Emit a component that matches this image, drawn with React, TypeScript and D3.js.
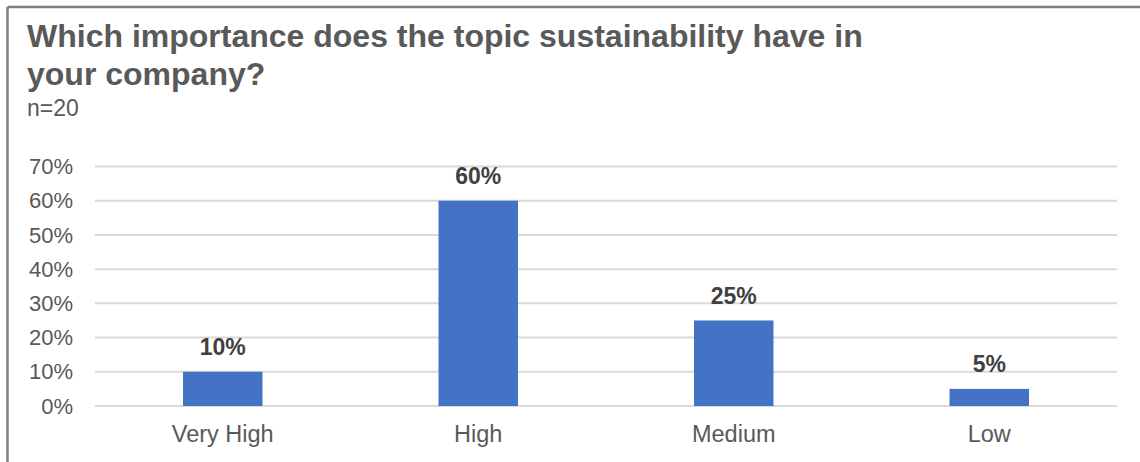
import React from "react";
import * as d3 from "d3";

const categories = ["Very High", "High", "Medium", "Low"];
const values = [10, 60, 25, 5];
const yTicks = [0, 10, 20, 30, 40, 50, 60, 70];
const titleLines = ["Which importance does the topic sustainability have in", "your company?"];
const subtitle = "n=20";

const W = 1140;
const H = 462;
const plotLeft = 95;
const plotRight = 1117;
const plotTop = 166.5;
const plotBottom = 406;

export default function App() {
  const x = d3
    .scaleBand<string>()
    .domain(categories)
    .range([plotLeft, plotRight])
    .paddingInner(0.689)
    .paddingOuter(0.3445);
  const y = d3.scaleLinear().domain([0, 70]).range([plotBottom, plotTop]);
  const font = "Arial, 'Liberation Sans', sans-serif";
  const gray = "#595959";

  return (
    <svg
      width={W}
      height={H}
      style={{ position: "absolute", left: 0, top: 0, display: "block", background: "#fff" }}
      fontFamily={font}
    >
      <rect x={0} y={0} width={W} height={H} fill="#fff" />
      {/* border */}
      <line x1={7.5} y1={7} x2={W} y2={7} stroke="#808080" strokeWidth={2.5} />
      <line x1={7.5} y1={7} x2={7.5} y2={H} stroke="#808080" strokeWidth={2.5} />

      {/* title */}
      <text x={27} y={47} fontSize={32} fontWeight="bold" fill={gray}>
        {titleLines[0]}
      </text>
      <text x={27} y={85} fontSize={32} fontWeight="bold" fill={gray}>
        {titleLines[1]}
      </text>
      <text x={27} y={116} fontSize={23} fill={gray}>
        {subtitle}
      </text>

      {/* gridlines */}
      {yTicks.map((t) => (
        <line
          key={"g" + t}
          x1={plotLeft}
          x2={plotRight}
          y1={y(t)}
          y2={y(t)}
          stroke="#D9D9D9"
          strokeWidth={2}
        />
      ))}
      {/* y tick labels */}
      {yTicks.map((t) => (
        <text
          key={"t" + t}
          x={73}
          y={y(t)}
          dy="0.35em"
          textAnchor="end"
          fontSize={22}
          fill={gray}
        >
          {t + "%"}
        </text>
      ))}

      {/* bars */}
      {categories.map((c, i) => (
        <rect
          key={"b" + c}
          x={x(c)}
          y={y(values[i])}
          width={x.bandwidth()}
          height={y(0) - y(values[i])}
          fill="#4472C4"
        />
      ))}
      {/* data labels */}
      {categories.map((c, i) => (
        <text
          key={"l" + c}
          x={(x(c) as number) + x.bandwidth() / 2}
          y={y(values[i]) - 16.5}
          textAnchor="middle"
          fontSize={23}
          fontWeight="bold"
          fill="#404040"
        >
          {values[i] + "%"}
        </text>
      ))}
      {/* category labels */}
      {categories.map((c) => (
        <text
          key={"c" + c}
          x={(x(c) as number) + x.bandwidth() / 2}
          y={441.5}
          textAnchor="middle"
          fontSize={23.5}
          fill={gray}
        >
          {c}
        </text>
      ))}
    </svg>
  );
}
